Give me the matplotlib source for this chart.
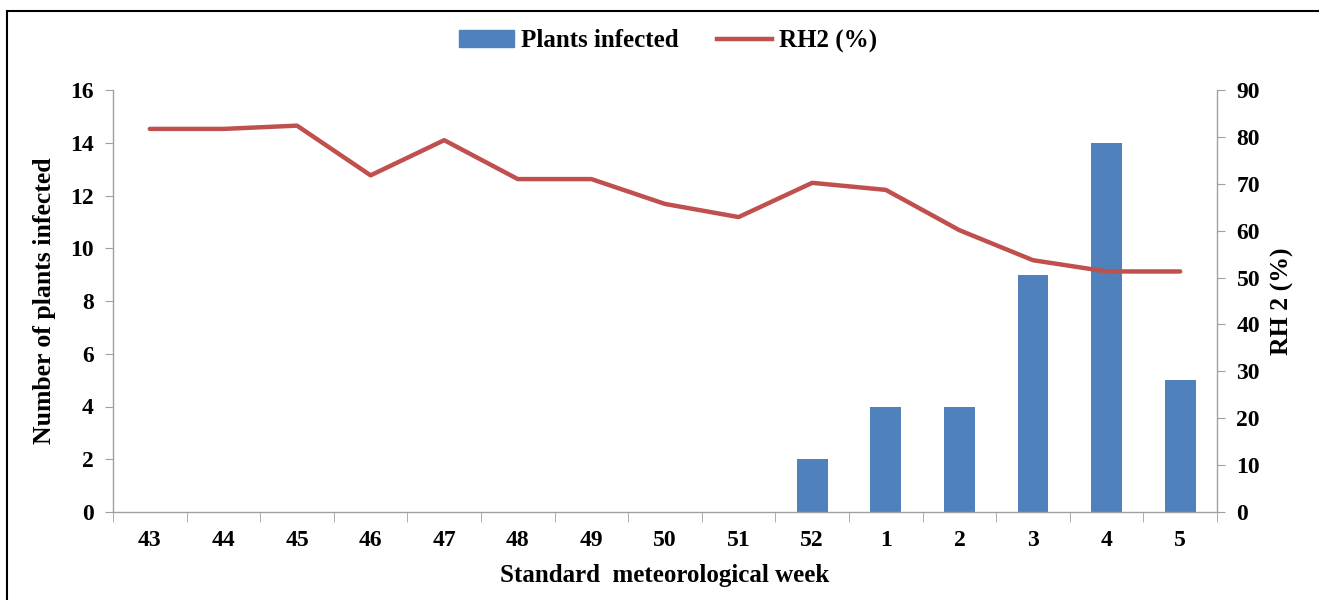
import matplotlib
matplotlib.use("Agg")
import matplotlib.pyplot as plt
from matplotlib.patches import Rectangle
from matplotlib.lines import Line2D
import numpy as np

weeks = ["43", "44", "45", "46", "47", "48", "49", "50", "51", "52", "1", "2", "3", "4", "5"]
plants_infected = [0, 0, 0, 0, 0, 0, 0, 0, 0, 2, 4, 4, 9, 14, 5]
rh2 = [81.7, 81.7, 82.4, 71.8, 79.3, 71.0, 71.0, 65.7, 62.9, 70.2, 68.7, 60.1, 53.7, 51.3, 51.3]
left_ticks = [0, 2, 4, 6, 8, 10, 12, 14, 16]
right_ticks = [0, 10, 20, 30, 40, 50, 60, 70, 80, 90]

plt.rcParams['font.family'] = ['Liberation Serif', 'DejaVu Serif']
plt.rcParams['font.weight'] = 'bold'

W, H = 1319, 600
fig = plt.figure(figsize=(W / 100, H / 100), dpi=100)
ax = fig.add_axes([113 / W, 1 - 512 / H, (1217 - 113) / W, (512 - 90) / H])
ax2 = ax.twinx()

x = np.arange(len(weeks))
bar_color = '#4F81BD'
line_color = '#C0504D'
grey = '#A0A0A0'

ax.bar(x, plants_infected, width=0.42, color=bar_color, zorder=2)
ax2.plot(x, rh2, color=line_color, lw=3.2, solid_capstyle='round', zorder=3)

ax.set_xlim(-0.5, len(weeks) - 0.5)
ax.set_ylim(0, 16)
ax2.set_ylim(0, 90)
ax.set_yticks(left_ticks)
ax2.set_yticks(right_ticks)
ax.set_xticks(x)
ax.set_xticklabels(weeks)
ax.set_xticks(np.arange(-0.5, len(weeks), 1.0), minor=True)
ax.tick_params(axis='x', which='major', length=0, pad=13, labelsize=17)
ax.tick_params(axis='x', which='minor', length=7, color=grey, direction='out')
ax.tick_params(axis='y', length=6, color=grey, direction='out', pad=8, labelsize=17)
ax2.tick_params(axis='y', length=6, color=grey, direction='out', pad=8, labelsize=17)

for a in (ax, ax2):
    a.spines['top'].set_visible(False)
    for s in ('left', 'right', 'bottom'):
        a.spines[s].set_color(grey)
        a.spines[s].set_linewidth(1.0)
ax.spines['right'].set_visible(False)
ax2.spines['left'].set_visible(False)
ax2.spines['bottom'].set_visible(False)

for lbl in ax.get_xticklabels() + ax.get_yticklabels() + ax2.get_yticklabels():
    lbl.set_fontweight('bold')

ax.set_xlabel('Standard  meteorological week', fontsize=18, fontweight='bold', labelpad=9)
ax.set_ylabel('Number of plants infected', fontsize=18.5, fontweight='bold', labelpad=10)
ax2.set_ylabel('RH 2 (%)', fontsize=18.5, fontweight='bold', labelpad=8)

handles = [Rectangle((0, 0), 1, 1, color=bar_color),
           Line2D([0], [0], color=line_color, lw=3.2)]
fig.legend(handles, ['Plants infected', 'RH2 (%)'], loc='center', bbox_to_anchor=(668 / W, 1 - 41 / H),
           ncol=2, frameon=False, prop={'weight': 'bold', 'size': 18}, handlelength=2.2,
           handleheight=0.7, handletextpad=0.3, columnspacing=1.5)

fig.add_artist(Rectangle((7 / W, -0.1), 1.2, 1 - 11 / H + 0.1, transform=fig.transFigure,
                         fill=False, edgecolor='black', lw=1.5))

fig.savefig('out.png', dpi=100)
